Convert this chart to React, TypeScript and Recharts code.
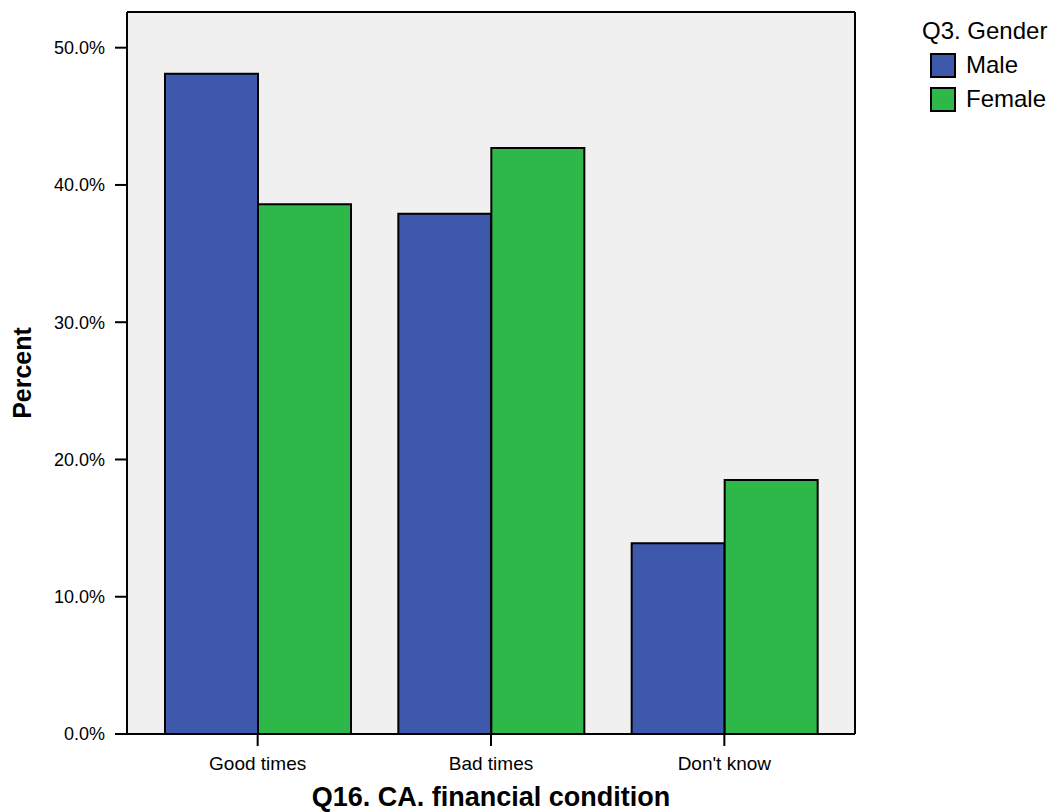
import { Bar, BarChart, CartesianGrid, Legend, XAxis, YAxis } from "recharts";

const categories = ["Good times", "Bad times", "Don't know"];
const malePct = [48.1, 37.9, 13.9];
const femalePct = [38.6, 42.7, 18.5];
const seriesNames = ["Male", "Female"];
const seriesColors = ["#3e58ac", "#2fb84a"];
const yTicks = [0, 10, 20, 30, 40, 50];

const data = categories.map((c, i) => ({
  category: c,
  Male: malePct[i],
  Female: femalePct[i],
}));

const font = "'Liberation Sans', Arial, sans-serif";

function GenderLegend() {
  return (
    <div style={{ fontFamily: font, color: "#000", textAlign: "left" }}>
      <div style={{ fontSize: 24, lineHeight: "26px", marginBottom: 4 }}>Q3. Gender</div>
      {seriesNames.map((name, i) => (
        <div
          key={name}
          style={{ display: "flex", alignItems: "center", height: 34, marginLeft: 8 }}
        >
          <span
            style={{
              display: "inline-block",
              width: 22,
              height: 21,
              background: seriesColors[i],
              border: "2px solid #000",
              marginRight: 10,
            }}
          />
          <span style={{ fontSize: 24 }}>{name}</span>
        </div>
      ))}
    </div>
  );
}

export default function App() {
  return (
    <div style={{ position: "absolute", left: 0, top: 0 }}>
      <BarChart
        width={1060}
        height={812}
        data={data}
        margin={{ top: 12, right: 205, left: 0, bottom: 0 }}
        barCategoryGap={24}
        barGap={0}
        style={{ fontFamily: font }}
      >
        <CartesianGrid
          fill="#f0f0f0"
          stroke="#000"
          strokeWidth={2}
          horizontalCoordinatesGenerator={({ offset }: any) => [
            offset.top,
            offset.top + offset.height,
          ]}
          verticalCoordinatesGenerator={({ offset }: any) => [
            offset.left,
            offset.left + offset.width,
          ]}
        />
        <XAxis
          dataKey="category"
          height={78}
          padding={{ left: 14, right: 14 }}
          axisLine={{ stroke: "#000", strokeWidth: 2 }}
          tickLine={{ stroke: "#000", strokeWidth: 2 }}
          tickSize={12}
          tickMargin={11}
          tick={{ fill: "#000", fontSize: 19 }}
          label={{
            value: "Q16. CA. financial condition",
            position: "insideBottom",
            offset: 6,
            fill: "#000",
            fontSize: 27,
            fontWeight: "bold",
          }}
        />
        <YAxis
          width={127}
          domain={[0, 52.6]}
          ticks={yTicks}
          tickFormatter={(v: number) => `${v.toFixed(1)}%`}
          axisLine={{ stroke: "#000", strokeWidth: 2 }}
          tickLine={{ stroke: "#000", strokeWidth: 2 }}
          tickSize={12}
          tickMargin={10}
          tick={{ fill: "#000", fontSize: 18 }}
          label={{
            content: (props: any) => {
              const vb = props.viewBox;
              const cx = vb.x + 22;
              const cy = vb.y + vb.height / 2;
              return (
                <text
                  x={cx}
                  y={cy}
                  transform={`rotate(-90 ${cx} ${cy})`}
                  textAnchor="middle"
                  dominantBaseline="central"
                  fontSize={25}
                  fontWeight="bold"
                  fill="#000"
                >
                  Percent
                </text>
              );
            },
          }}
        />
        <Legend
          verticalAlign="middle"
          align="center"
          layout="horizontal"
          content={() => <GenderLegend />}
          wrapperStyle={{ top: 18, left: 922, right: "auto", width: 138 }}
        />
        {seriesNames.map((name, i) => (
          <Bar
            key={name}
            dataKey={name}
            name={name}
            fill={seriesColors[i]}
            stroke="#000"
            strokeWidth={2}
            isAnimationActive={false}
          />
        ))}
      </BarChart>
    </div>
  );
}
